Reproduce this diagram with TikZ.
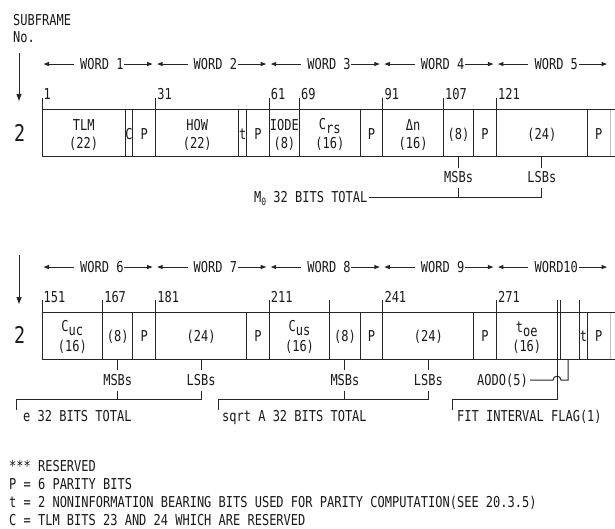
\documentclass[tikz,border=0pt]{standalone}
\usepackage{fontspec}
\setmainfont{DejaVu Sans Mono}[FakeStretch=0.8]
\usetikzlibrary{arrows.meta}
\newcommand\bxa[1]{42+(#1-1)*3.787}
\newcommand\bxb[1]{42+(#1-151)*3.787}
\newcommand\lowr[1]{\raisebox{-4pt}{#1}}
\tikzset{
  ln/.style={draw=black!85, line width=1pt},
  lnlight/.style={draw=black!25, line width=1pt},
  txt/.style={inner sep=0pt, font=\fontsize{15}{17}\selectfont, text=black!90},
  fl/.style={txt, anchor=base},
  arr/.style={ln, -{Triangle[length=5.5pt,width=4pt]}},
  darr/.style={ln, -{Triangle[length=7pt,width=5pt]}},
  big/.style={txt, anchor=base, font=\fontsize{23}{23}\selectfont},
}
\begin{document}
\begin{tikzpicture}[x=1pt,y=-1pt]
\useasboundingbox (0,0) rectangle (615,529);
% header
\node[txt,anchor=base west] (sf) at (13,26) {SUBFRAME};
\node[txt,anchor=base west] (no) at (13,43) {No.};
% ---------------- row 1 ----------------
\coordinate (d1a) at (19,53); \coordinate (d1b) at (19,101);
\draw[darr] (d1a) -- (d1b);
\node[big] (r1) at (19.7,141.7) {2};
\foreach \w/\a/\b/\lab in {1/1/31/WORD 1, 2/31/61/WORD 2, 3/61/91/WORD 3, 4/91/121/WORD 4, 5/121/151/WORD 5} {
  \node[fl] (w\w) at ({(\bxa{\a}+\bxa{\b})/2+3},69.5) {\lab};
  \coordinate (wl\w) at ({\bxa{\a}+1.5},64);
  \coordinate (wr\w) at ({\bxa{\b}-3},64);
  \draw[arr] ([xshift=-6pt]w\w.west) -- (wl\w |- w\w.west);
  \draw[arr] ([xshift=0.5pt]w\w.east) -- (wr\w |- w\w.west);
}
\draw[ln] (42,110) -- (615,110) (42,157) -- (615,157);
\foreach \b in {1,23,25,31,53,55,61,69,85,91,107,115,121,145}
  \draw[ln] ({\bxa{\b}},110) -- ({\bxa{\b}},157);
\draw[lnlight] ({\bxa{151}},110.5) -- ({\bxa{151}},156.5);
\foreach \b in {1,31,61,69,91,107,121} {
  \draw[ln] ({\bxa{\b}},98) -- ({\bxa{\b}},110);
  \node[txt,anchor=base west] (t\b) at ({\bxa{\b}+1.5},100) {\b};
}
\node[fl] (tlm) at ({\bxa{12}},130.5) {TLM};
\node[fl] (tlmn) at ({\bxa{12}},149) {(22)};
\node[fl] (cc) at ({\bxa{24}},139.5) {C};
\node[fl] (p1) at ({\bxa{28}},139.5) {P};
\node[fl] (how) at ({\bxa{42}},130.5) {HOW};
\node[fl] (hown) at ({\bxa{42}},149) {(22)};
\node[fl] (ta) at ({\bxa{54}},139.5) {t};
\node[fl] (p2) at ({\bxa{58}},139.5) {P};
\node[fl] (iode) at ({\bxa{65}},130.5) {IODE};
\node[fl] (ioden) at ({\bxa{65}},149) {(8)};
\node[fl] (crs) at ({\bxa{77}},129.5) {C\lowr{rs}};
\node[fl] (crsn) at ({\bxa{77}},149) {(16)};
\node[fl] (p3) at ({\bxa{88}},139.5) {P};
\node[fl] (dn) at ({\bxa{99}},130.5) {Δn};
\node[fl] (dnn) at ({\bxa{99}},149) {(16)};
\node[fl] (m8) at ({\bxa{111}},139.5) {(8)};
\node[fl] (p4) at ({\bxa{118}},139.5) {P};
\node[fl] (m24) at ({\bxa{133}},139.5) {(24)};
\node[fl] (p5) at ({\bxa{148}},139.5) {P};
% M0 bracket
\coordinate (mt1) at ({\bxa{111}},157); \coordinate (mb1) at ({\bxa{111}},168);
\coordinate (lt1) at ({\bxa{133}},157); \coordinate (lb1) at ({\bxa{133}},168);
\node[fl] (msb1) at ({\bxa{111}},183) {MSBs};
\node[fl] (lsb1) at ({\bxa{133}},183) {LSBs};
\draw[ln] (mt1) -- (mb1);
\draw[ln] (lt1) -- (lb1);
\coordinate (mu1) at ({\bxa{111}},188); \coordinate (mh1) at ({\bxa{111}},198);
\coordinate (lu1) at ({\bxa{133}},188); \coordinate (lh1) at ({\bxa{133}},198);
\node[txt,anchor=base west] (m0) at (254,203) {M\raisebox{-3pt}{\fontsize{10}{10}\selectfont 0} 32 BITS TOTAL};
\draw[ln] (mu1) -- (mh1);
\draw[ln] ([xshift=1.5pt]m0.east |- lh1) -- (lh1) -- (lu1);
% ---------------- row 2 ----------------
\coordinate (d2a) at (19,255); \coordinate (d2b) at (19,304);
\draw[darr] (d2a) -- (d2b);
\node[big] (r2) at (19.7,343.7) {2};
\foreach \w/\a/\b/\lab in {6/151/181/WORD 6, 7/181/211/WORD 7, 8/211/241/WORD 8, 9/241/271/WORD 9, 10/271/301/WORD10} {
  \node[fl] (w\w) at ({(\bxb{\a}+\bxb{\b})/2+3},272.5) {\lab};
  \coordinate (wl\w) at ({\bxb{\a}+1.5},267);
  \coordinate (wr\w) at ({\bxb{\b}-3},267);
  \draw[arr] ([xshift=-6pt]w\w.west) -- (wl\w |- w\w.west);
  \draw[arr] ([xshift=0.5pt]w\w.east) -- (wr\w |- w\w.west);
}
\draw[ln] (42,312) -- (615,312) (42,359.5) -- (615,359.5);
\foreach \b in {151,167,175,181,205,211,227,235,241,265,271,287,288,293,295}
  \draw[ln] ({\bxb{\b}},312) -- ({\bxb{\b}},359.5);
\draw[lnlight] ({\bxb{301}},312.5) -- ({\bxb{301}},359);
\foreach \b in {151,167,181,211,241,271} {
  \draw[ln] ({\bxb{\b}},300) -- ({\bxb{\b}},312);
  \node[txt,anchor=base west] (t\b) at ({\bxb{\b}+1.5},302) {\b};
}
\foreach \b in {227,287,288,293}
  \draw[ln] ({\bxb{\b}},300) -- ({\bxb{\b}},312);
\node[fl] (cuc) at ({\bxb{159}},331.5) {C\lowr{uc}};
\node[fl] (cucn) at ({\bxb{159}},351) {(16)};
\node[fl] (e8) at ({\bxb{171}},341.5) {(8)};
\node[fl] (p6) at ({\bxb{178}},341.5) {P};
\node[fl] (e24) at ({\bxb{193}},341.5) {(24)};
\node[fl] (p7) at ({\bxb{208}},341.5) {P};
\node[fl] (cus) at ({\bxb{219}},331.5) {C\lowr{us}};
\node[fl] (cusn) at ({\bxb{219}},351) {(16)};
\node[fl] (a8) at ({\bxb{231}},341.5) {(8)};
\node[fl] (p8) at ({\bxb{238}},341.5) {P};
\node[fl] (a24) at ({\bxb{253}},341.5) {(24)};
\node[fl] (p9) at ({\bxb{268}},341.5) {P};
\node[fl] (toe) at ({\bxb{279}},332.5) {t\lowr{oe}};
\node[fl] (toen) at ({\bxb{279}},351) {(16)};
\node[fl] (tb) at ({\bxb{294}},341.5) {t};
\node[fl] (p10) at ({\bxb{298}},341.5) {P};
% e and sqrt A brackets
\node[fl] (msb2) at ({\bxb{171}},385) {MSBs};
\node[fl] (lsb2) at ({\bxb{193}},385) {LSBs};
\node[fl] (msb3) at ({\bxb{231}},385) {MSBs};
\node[fl] (lsb3) at ({\bxb{253}},385) {LSBs};
\foreach \b/\n in {171/a, 193/b, 231/c, 253/d} {
  \coordinate (u\n) at ({\bxb{\b}},359.5);
  \coordinate (v\n) at ({\bxb{\b}},370);
  \coordinate (x\n) at ({\bxb{\b}},391);
  \coordinate (h\n) at ({\bxb{\b}},399);
  \draw[ln] (u\n) -- (v\n);
}
\coordinate (e0) at (16,410); \coordinate (e1) at (16,399);
\coordinate (s0) at (218,410); \coordinate (s1) at (218,399);
\draw[ln] (xa) -- (ha);
\draw[ln] (e0) -- (e1) -- (hb) -- (xb);
\draw[ln] (xc) -- (hc);
\draw[ln] (s0) -- (s1) -- (hd) -- (xd);
\node[txt,anchor=base west] (etxt) at (23,421) {e 32 BITS TOTAL};
\node[txt,anchor=base west] (atxt) at (222,421) {sqrt A 32 BITS TOTAL};
% fit interval flag and AODO
\coordinate (f0) at ({\bxb{287}},359.5);
\coordinate (f1) at ({\bxb{287}},399);
\coordinate (f2) at (452,399);
\coordinate (f3) at (452,410);
\draw[ln] (f0) -- (f1) -- (f2) -- (f3);
\node[txt,anchor=base west] (ftxt) at (457,421) {FIT INTERVAL FLAG(1)};
\node[txt,anchor=base east] (aodo) at (528,385) {AODO(5)};
\coordinate (g0) at (568,359.5);
\coordinate (g1) at (568,380);
\coordinate (g2) at ({\bxb{287}+4},380);
\coordinate (g3) at ({\bxb{287}-4},380);
\draw[ln] (g0) -- (g1) -- (g2) .. controls ({\bxb{287}+4},375) and ({\bxb{287}-4},375) .. (g3) -- ([xshift=2pt]aodo.east |- g3);
% legend
\node[txt,anchor=base west] (lg1) at (9,471) {*** RESERVED};
\node[txt,anchor=base west] (lg2) at (9,489) {P = 6 PARITY BITS};
\node[txt,anchor=base west] (lg3) at (9,507) {t = 2 NONINFORMATION BEARING BITS USED FOR PARITY COMPUTATION(SEE 20.3.5)};
\node[txt,anchor=base west] (lg4) at (9,525) {C = TLM BITS 23 AND 24 WHICH ARE RESERVED};
\end{tikzpicture}
\end{document}
